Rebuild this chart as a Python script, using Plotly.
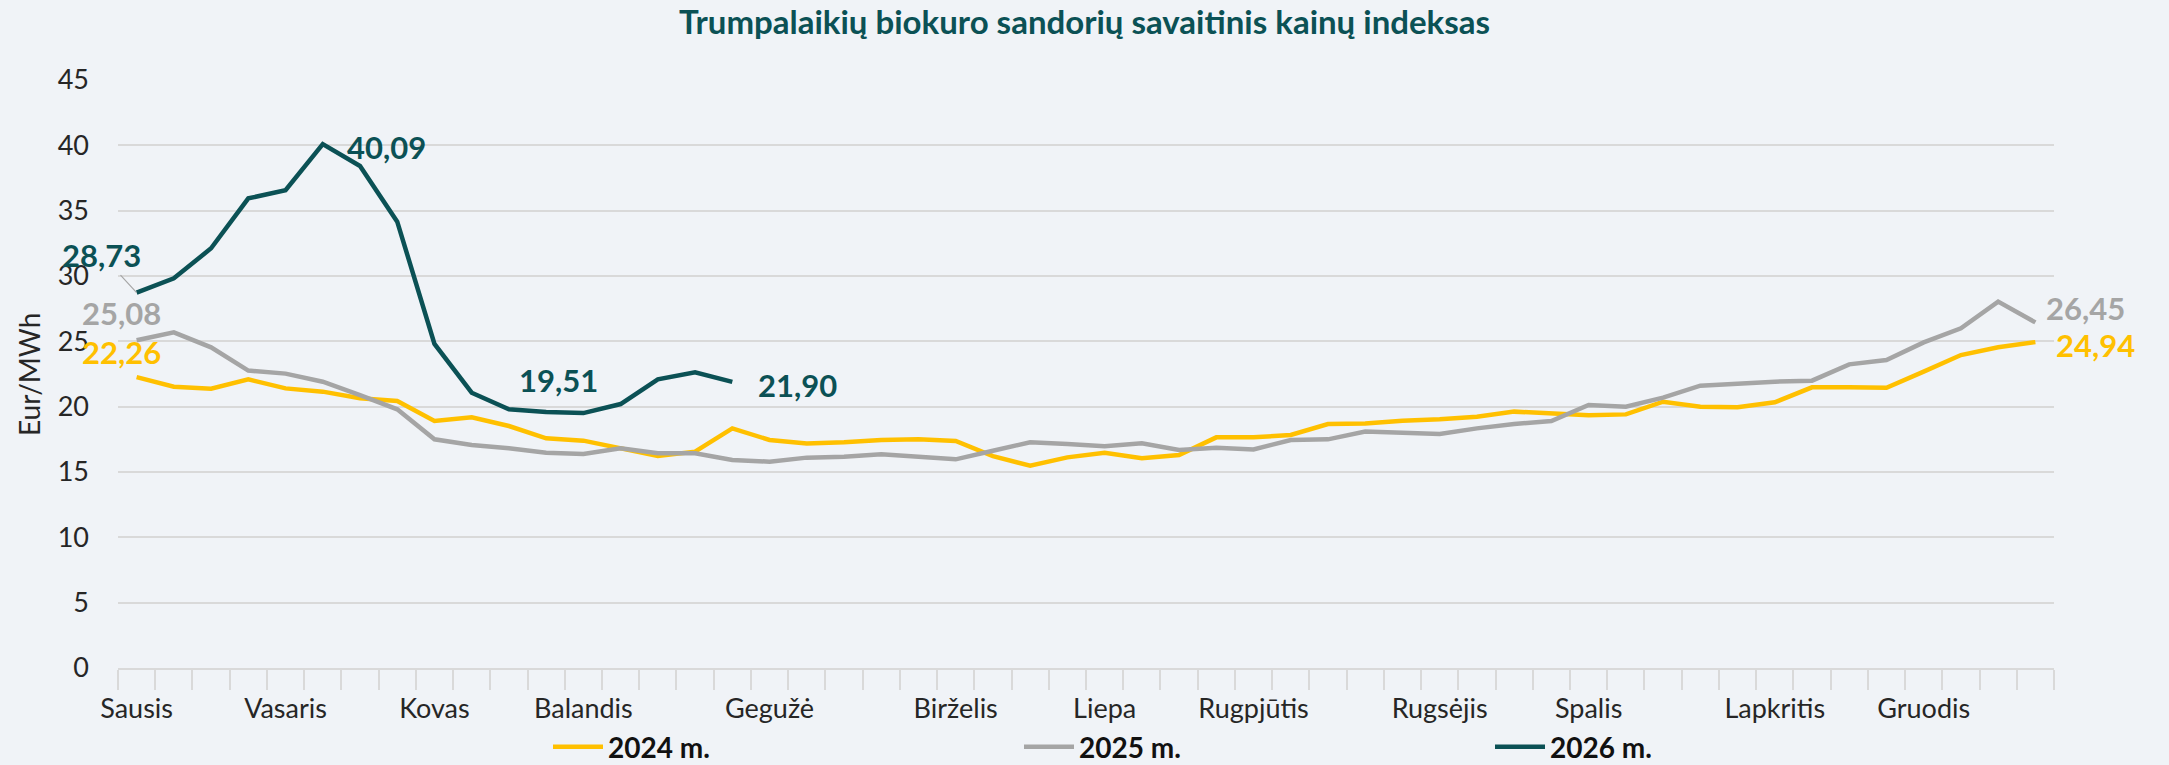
import plotly.graph_objects as go

# ---- data ----
weeks = list(range(52))
month_ticks = [0, 4, 8, 12, 17, 22, 26, 30, 35, 39, 44, 48]
month_labels = ["Sausis", "Vasaris", "Kovas", "Balandis", "Gegužė", "Birželis",
                "Liepa", "Rugpjūtis", "Rugsėjis", "Spalis", "Lapkritis", "Gruodis"]

y2024 = [22.26, 21.53, 21.38, 22.09, 21.40, 21.15, 20.64, 20.43, 18.90, 19.18, 18.52, 17.58, 17.40,
         16.81, 16.22, 16.56, 18.34, 17.45, 17.19, 17.27, 17.45, 17.50, 17.37, 16.22, 15.48, 16.12, 16.47,
         16.05, 16.30, 17.65, 17.65, 17.83, 18.67, 18.72, 18.93, 19.03, 19.23, 19.62, 19.49, 19.34, 19.41,
         20.38, 20.00, 19.95, 20.33, 21.48, 21.48, 21.45, 22.68, 23.95, 24.54, 24.94]
y2025 = [25.08, 25.69, 24.54, 22.76, 22.53, 21.91, 20.89, 19.80, 17.50, 17.07, 16.81, 16.48, 16.38,
         16.81, 16.43, 16.43, 15.92, 15.79, 16.10, 16.17, 16.35, 16.17, 15.97, 16.63, 17.27, 17.14, 16.97,
         17.19, 16.68, 16.86, 16.73, 17.45, 17.50, 18.09, 18.01, 17.91, 18.34, 18.67, 18.90, 20.13, 20.00,
         20.69, 21.61, 21.79, 21.91, 21.99, 23.24, 23.57, 24.92, 26.00, 28.04, 26.45]
y2026 = [28.73, 29.82, 32.12, 35.94, 36.56, 40.09, 38.42, 34.16, 24.80, 21.07, 19.80, 19.59, 19.51,
         20.20, 22.09, 22.63, 21.90]

series_names = ["2024 m.", "2025 m.", "2026 m."]
series_colors = ["#FFC000", "#A5A5A5", "#0B5155"]

# labels: (series index, week index, text, xshift, yshift)
labels = [
    (2, 5, "40,09", 64, -3),
    (2, 12, "19,51", -25, 33),
    (2, 16, "21,90", 65, -3),
    (1, 0, "25,08", -15, 27),
    (0, 0, "22,26", -15, 25),
    (1, 51, "26,45", 50, 14),
    (0, 51, "24,94", 60, -3),
]

FONT = "Lato"
BG = "#F0F3F7"
GRID = "#D9D9D9"

fig = go.Figure()
all_series = [y2024, y2025, y2026]
for name, col, ys in zip(series_names, series_colors, all_series):
    fig.add_trace(go.Scatter(
        x=weeks[:len(ys)], y=ys, mode="lines", name=name,
        line=dict(color=col, width=4.5), hoverinfo="skip"))

for si, wi, txt, xs, ys_ in labels:
    fig.add_annotation(
        x=weeks[wi], y=all_series[si][wi], text=txt, showarrow=False,
        xshift=xs, yshift=ys_, xref="x", yref="y",
        font=dict(family=FONT, size=31, color=series_colors[si], weight="bold"))

# 28,73 label with leader line
fig.add_annotation(
    x=weeks[0], y=y2026[0], text="28,73", showarrow=True, arrowhead=0,
    arrowwidth=1.2, arrowcolor="#A6A6A6", ax=-35, ay=-38, xref="x", yref="y",
    font=dict(family=FONT, size=31, color=series_colors[2], weight="bold"))

# y-axis title as rotated annotation
fig.add_annotation(
    text="Eur/MWh", textangle=-90, showarrow=False,
    xref="paper", yref="paper", x=-(118 - 29) / 1936, y=(668 - 375) / 588,
    xanchor="center", yanchor="middle",
    font=dict(family=FONT, size=28, color="#262626"))

fig.update_layout(
    width=2169, height=765, autosize=False,
    paper_bgcolor=BG, plot_bgcolor=BG,
    margin=dict(l=118, r=115, t=80, b=97, autoexpand=False),
    title=dict(text="Trumpalaikių biokuro sandorių savaitinis kainų indeksas",
               x=0.5, xref="container", xanchor="center",
               y=1 - 22 / 765, yref="container", yanchor="middle",
               font=dict(family=FONT, size=33, color="#0B5155", weight="bold")),
    font=dict(family=FONT, color="#262626"),
    showlegend=True,
    legend=dict(orientation="h", x=(548 - 118) / 1936, xanchor="left",
                y=(668 - 747) / 588, yanchor="middle",
                entrywidth=406, entrywidthmode="pixels", itemwidth=50,
                font=dict(family=FONT, size=28, color="#111111", weight="bold"),
                bgcolor="rgba(0,0,0,0)"),
)

fig.update_xaxes(
    range=[-0.5, 51.5], tickmode="array", tickvals=month_ticks, ticktext=month_labels,
    ticks="", showgrid=False, zeroline=False, automargin=False,
    showline=True, linecolor=GRID, linewidth=2,
    tickfont=dict(family=FONT, size=27, color="#262626"),
    ticklabelstandoff=16,
    minor=dict(ticks="outside", tickmode="linear", tick0=-0.5, dtick=1,
               ticklen=20, tickcolor=GRID, tickwidth=2, showgrid=False),
)
fig.update_yaxes(
    range=[0, 45], dtick=5, tick0=0, showgrid=True, gridcolor=GRID, gridwidth=2,
    zeroline=False, ticks="", showline=False, automargin=False,
    tickfont=dict(family=FONT, size=27, color="#262626"),
    ticklabelstandoff=28,
)

fig.write_html(
    "out.html",
    config={"displayModeBar": False},
    post_script="document.body.style.margin='0';document.body.style.background='" + BG + "';",
)
